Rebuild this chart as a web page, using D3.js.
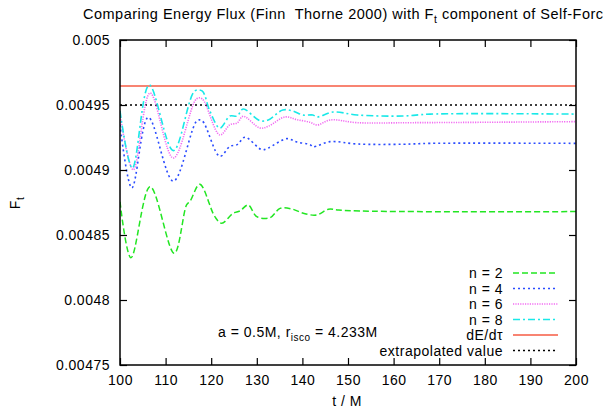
<!DOCTYPE html>
<html>
<head>
<meta charset="utf-8">
<script src="https://cdn.jsdelivr.net/npm/d3@7"></script>
<style>
  body { margin: 0; background: #fff; }
  text { font-family: "Liberation Sans", Arial, sans-serif; fill: #000; letter-spacing: 0.5px; }
</style>
</head>
<body>
<div id="chart"></div>
<script>
// chart size
let svg_width = 603;
let svg_height = 410;

let margin = { top: 40, right: 27, bottom: 45, left: 120 };
let width = 576 - margin.left;
let height = 365 - margin.top;

let font_size = '14px';

// data (t / M, F_t)
let t_n2 = [100, 102.4, 106.6, 111.9, 114.6, 115.4, 117.5, 120.8, 122.3, 124.8, 126.3, 128.1, 130, 132.9, 135.1, 137.7, 140.2, 143.1, 145.7, 147.9, 152.6, 165, 200];
let f_n2 = [0.0048756, 0.0048325, 0.0048872, 0.0048359, 0.0048731, 0.0048762, 0.004889, 0.0048641, 0.004859, 0.0048667, 0.0048685, 0.0048731, 0.0048641, 0.0048633, 0.0048705, 0.00487, 0.0048667, 0.0048654, 0.0048698, 0.0048692, 0.0048685, 0.004868, 0.004868];

let t_n4 = [100, 102.6, 106.2, 111.7, 116.9, 118, 121.9, 124.1, 125.7, 127.4, 131.1, 132.5, 136.6, 138.8, 141.7, 142.3, 146.1, 152, 162.1, 168, 200];
let f_n4 = [0.0049348, 0.0048862, 0.0049405, 0.0048915, 0.0049379, 0.0049379, 0.0049105, 0.0049182, 0.0049195, 0.0049252, 0.0049156, 0.0049169, 0.0049241, 0.0049215, 0.0049195, 0.0049179, 0.0049218, 0.00492, 0.0049198, 0.0049205, 0.0049205];

let t_n6 = [100, 102.9, 106.6, 111.7, 116.8, 118, 121.9, 124.1, 125.7, 127, 130.7, 132.5, 136.2, 138.8, 141.7, 143.2, 146.1, 152, 164.3, 200];
let f_n6 = [0.0049425, 0.0049002, 0.0049592, 0.0049092, 0.0049548, 0.0049548, 0.0049269, 0.0049348, 0.0049362, 0.0049413, 0.0049323, 0.0049336, 0.0049408, 0.0049387, 0.0049367, 0.0049346, 0.0049385, 0.0049364, 0.0049364, 0.0049372];

let t_n8 = [100, 102.7, 106.4, 111.7, 116.4, 118, 119.7, 121.9, 124.1, 125.7, 127, 130.7, 132.5, 135.7, 137.9, 140.1, 142.3, 143.2, 146.7, 152, 162, 168, 200];
let f_n8 = [0.0049454, 0.0049015, 0.0049654, 0.0049149, 0.0049608, 0.0049608, 0.0049454, 0.0049323, 0.0049415, 0.0049415, 0.0049469, 0.0049379, 0.0049385, 0.0049462, 0.0049454, 0.0049423, 0.0049423, 0.0049408, 0.0049446, 0.0049423, 0.0049415, 0.004943, 0.004943];

let dE_dtau = 0.0049646;
let extrapolated = 0.00495;

let x_ticks = [100, 110, 120, 130, 140, 150, 160, 170, 180, 190, 200];
let y_ticks = [0.00475, 0.0048, 0.00485, 0.0049, 0.00495, 0.005];
let y_tick_labels = ['0.00475', '0.0048', '0.00485', '0.0049', '0.00495', '0.005'];

let series_names = ['n = 2', 'n = 4', 'n = 6', 'n = 8'];

// style of each curve
let styles = [
  { color: '#22e622', dash: '6,3', width: 1.5 },
  { color: '#2b4cff', dash: '2,3', width: 1.6 },
  { color: '#f26cf2', dash: '1.2,1.2', width: 1.6 },
  { color: '#19e8e8', dash: '7,3,2,3', width: 1.6 }
];

let svg = d3.select('#chart').append('svg')
  .attr('width', svg_width)
  .attr('height', svg_height);

let chart_group = svg.append('g')
  .attr('transform', `translate(${margin.left}, ${margin.top})`);

let xScale = d3.scaleLinear().domain([100, 200]).range([0, width]);
let yScale = d3.scaleLinear().domain([0.00475, 0.005]).range([height, 0]);

// title (runs off the right edge like the original)
svg.append('text')
  .attr('x', 83)
  .attr('y', 19)
  .attr('font-size', '14.5px')
  .html('Comparing Energy Flux (Finn&#160; Thorne 2000) with F<tspan dy="4" font-size="10.5px">t</tspan><tspan dy="-4"> component of Self-Force</tspan>');

// clip the curves to the plot box
chart_group.append('clipPath').attr('id', 'clip')
  .append('rect').attr('width', width).attr('height', height);

let plot = chart_group.append('g').attr('clip-path', 'url(#clip)');

// horizontal reference lines
plot.append('line')
  .attr('x1', 0).attr('x2', width)
  .attr('y1', yScale(dE_dtau)).attr('y2', yScale(dE_dtau))
  .attr('stroke', '#f88472').attr('stroke-width', 2);

plot.append('line')
  .attr('x1', 0).attr('x2', width)
  .attr('y1', yScale(extrapolated)).attr('y2', yScale(extrapolated))
  .attr('stroke', '#000').attr('stroke-width', 1.3).attr('stroke-dasharray', '2,3');

let line = d3.line()
  .x(d => xScale(d[0]))
  .y(d => yScale(d[1]))
  .curve(d3.curveCatmullRom.alpha(0.5));

let all_t = [t_n2, t_n4, t_n6, t_n8];
let all_f = [f_n2, f_n4, f_n6, f_n8];

all_t.forEach(function(ts, i) {
  let pts = ts.map((t, j) => [t, all_f[i][j]]);
  plot.append('path')
    .datum(pts)
    .attr('d', line)
    .attr('fill', 'none')
    .attr('stroke', styles[i].color)
    .attr('stroke-width', styles[i].width)
    .attr('stroke-dasharray', styles[i].dash);
});

// axes with inward ticks, mirrored on all four sides
let bottomAxis = d3.axisBottom(xScale).tickValues(x_ticks).tickSize(-7).tickPadding(10);
let leftAxis = d3.axisLeft(yScale).tickValues(y_ticks).tickSize(-7).tickPadding(10)
  .tickFormat((d, i) => y_tick_labels[i]);

let xAxis = chart_group.append('g')
  .attr('transform', `translate(0, ${height})`)
  .call(bottomAxis);
let yAxis = chart_group.append('g').call(leftAxis);
let topAxis = chart_group.append('g')
  .call(d3.axisTop(xScale).tickValues(x_ticks).tickSize(-7).tickFormat(''));
let rightAxis = chart_group.append('g')
  .attr('transform', `translate(${width}, 0)`)
  .call(d3.axisRight(yScale).tickValues(y_ticks).tickSize(-7).tickFormat(''));

[xAxis, yAxis, topAxis, rightAxis].forEach(function(a) {
  a.select('.domain').remove();
  a.selectAll('line').attr('stroke', '#000').attr('stroke-width', 1.2);
  a.selectAll('text').attr('font-size', font_size).attr('font-family', '"Liberation Sans", Arial, sans-serif');
});

// frame
chart_group.append('rect')
  .attr('width', width).attr('height', height)
  .attr('fill', 'none').attr('stroke', '#000').attr('stroke-width', 1.5);

// axis labels
svg.append('text')
  .attr('x', 347).attr('y', 406)
  .attr('text-anchor', 'middle')
  .attr('font-size', font_size)
  .text('t / M');

svg.append('text')
  .attr('transform', 'translate(20, 203) rotate(-90)')
  .attr('text-anchor', 'middle')
  .attr('font-size', font_size)
  .html('F<tspan dy="4" font-size="10px">t</tspan>');

// annotation
svg.append('text')
  .attr('x', 218).attr('y', 337)
  .attr('font-size', font_size)
  .html('a = 0.5M, r<tspan dy="4" font-size="10px">isco</tspan><tspan dy="-4"> = 4.233M</tspan>');

// legend
let legend_items = series_names.map((n, i) => ({ label: n, color: styles[i].color, dash: styles[i].dash, width: styles[i].width }));
legend_items.push({ label: 'dE/d\u03C4', color: '#f88472', dash: null, width: 2 });
legend_items.push({ label: 'extrapolated value', color: '#000', dash: '2,3', width: 1.3 });

let legend = svg.append('g');
legend_items.forEach(function(d, i) {
  let y = 273 + i * 15.5;
  legend.append('text')
    .attr('x', 503).attr('y', y + 5)
    .attr('text-anchor', 'end')
    .attr('font-size', font_size)
    .text(d.label);
  legend.append('line')
    .attr('x1', 513).attr('x2', 558)
    .attr('y1', y).attr('y2', y)
    .attr('stroke', d.color)
    .attr('stroke-width', d.width)
    .attr('stroke-dasharray', d.dash);
});
</script>
</body>
</html>
